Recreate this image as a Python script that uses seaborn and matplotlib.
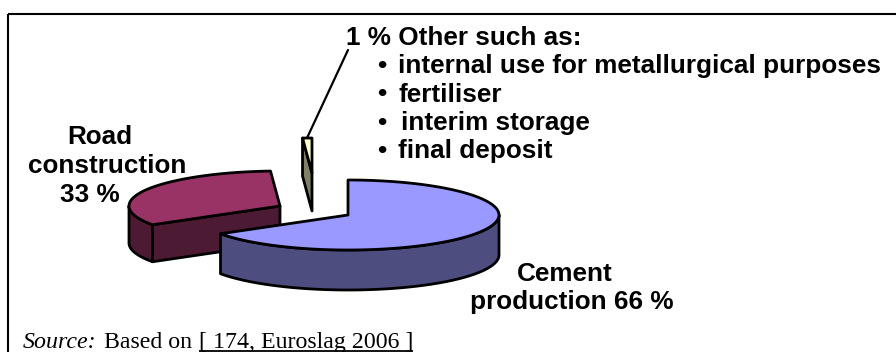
import numpy as np
import matplotlib
matplotlib.use("Agg")
import matplotlib.pyplot as plt
from matplotlib.patches import Polygon
import seaborn as sns

# Data
categories = ["Cement production", "Road construction", "Other"]
shares = [66, 33, 1]
top_colors = ["#9999FF", "#993366", "#FFFFCC"]
side_colors = ["#4D4D80", "#4D1A33", "#808066"]
centres = [(348, 215), (280, 206), (312, 173)]
depths = [40, 37, 38]
list_items = ["internal use for metallurgical purposes", "fertiliser",
              "interim storage", "final deposit"]

RX, RY = 151, 35
LW = 2.0

sns.set_theme(style="white")
plt.rcParams["font.family"] = ["Liberation Sans", "DejaVu Sans"]

fig = plt.figure(figsize=(8.96, 3.52), dpi=100)
ax = fig.add_axes([0, 0, 1, 1])
ax.set_xlim(0, 896)
ax.set_ylim(352, 0)
ax.axis("off")


def arc(c, a0, a1, n=120):
    t = np.radians(np.linspace(a0, a1, n))
    return np.column_stack([c[0] + RX * np.sin(t), c[1] - RY * np.cos(t)])


def poly(pts, fc, z):
    ax.add_patch(Polygon(pts, closed=True, fc=fc, ec="black", lw=LW, joinstyle="round", zorder=z))


edges = np.cumsum([0] + shares) * 3.6
draw_order = [1, 0, 2]
for z, i in enumerate(draw_order):
    a0, a1 = edges[i], edges[i + 1]
    c = np.array(centres[i], float)
    down = np.array([0, depths[i]])
    # radial cut face seen from the front
    if i != 0:
        p = arc(c, a0, a0, 1)[0]
        poly(np.array([c, p, p + down, c + down]), side_colors[i], 2 * z + 2)
    # outer wall: visible portion of the rim on the near half
    lo, hi = max(a0, 90), min(a1, 270)
    if hi > lo:
        r = arc(c, lo, hi)
        poly(np.vstack([r, (r + down)[::-1]]), side_colors[i], 2 * z + 2)
    poly(np.vstack([c, arc(c, a0, a1)]), top_colors[i], 2 * z + 3)

# Leader line
ax.plot([348, 307], [50, 138], color="black", lw=1.6, zorder=20)

# Frame
ax.plot([8, 8], [352, 13.5], color="black", lw=1.5, solid_capstyle="butt", zorder=1)
ax.plot([7.5, 896], [13.5, 13.5], color="black", lw=1.5, solid_capstyle="butt", zorder=1)

# Labels
FS = 18.8
bold = dict(fontsize=FS, fontweight="bold", color="black", zorder=30, va="baseline")
ax.text(346, 45, "1 % Other such as:", ha="left", **bold)
xs = [398.5, 398.5, 401, 398.5]
ys = [73.5, 101.5, 130, 158]
for x, y, s in zip(xs, ys, list_items):
    ax.text(x, y, s, ha="left", **bold)
    ax.text(377, y, "\u2022", ha="left", **bold)
ax.text(100, 144, "Road", ha="center", **bold)
ax.text(107.5, 173, "construction", ha="center", **bold)
ax.text(90, 202, "33 %", ha="center", **bold)
ax.text(564.5, 281, "Cement", ha="center", **bold)
ax.text(470, 309, "production 66 %", ha="left", **bold)

# Source line
serif = ["Liberation Serif", "DejaVu Serif"]
ax.text(23, 348, "Source:", fontsize=17.2, fontstyle="italic", family=serif, ha="left", va="baseline", color="black")
ax.text(104, 348, "Based on", fontsize=17.2, family=serif, ha="left", va="baseline", color="black")
ax.text(199, 348, "[ 174, Euroslag 2006 ]", fontsize=17.2, family=serif, ha="left", va="baseline", color="black")
ax.plot([199, 413], [350.5, 350.5], color="black", lw=1.3, solid_capstyle="butt")

fig.savefig("out.png", dpi=100)
